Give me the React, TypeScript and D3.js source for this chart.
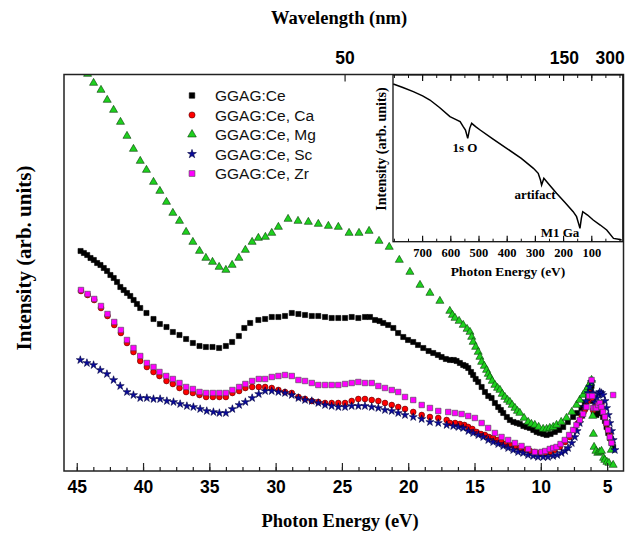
import React from 'react';
import * as d3 from 'd3';

// tick values
const energyTicks = [45, 40, 35, 30, 25, 20, 15, 10, 5];
const wavelengthTicks = [50, 75, 100, 125, 150, 175, 200, 225, 250, 275, 300];
const wavelengthLabels = [50, 150, 300];
const insetTicks = [700, 600, 500, 400, 300, 200, 100];

// [photon energy (eV), intensity (arb. units)]
const ceData: [number, number][] = [
  [44.75, 220], [44.5, 218], [44.25, 216], [44.0, 213], [43.75, 211], [43.5, 208], [43.25, 206], [43.0, 203],
  [42.75, 200], [42.5, 196], [42.25, 193], [42.0, 189], [41.75, 184], [41.5, 181], [41.25, 178], [41.0, 175],
  [40.75, 171], [40.5, 167], [40.25, 163], [39.78, 158], [39.25, 152], [38.77, 147], [38.27, 144], [37.79, 139],
  [37.29, 136], [36.79, 132], [36.28, 128], [35.78, 125], [35.3, 124], [34.8, 124], [34.3, 123], [33.79, 125],
  [33.32, 129], [32.81, 135], [32.4, 143], [31.96, 148], [31.34, 151], [30.83, 152], [30.33, 154], [29.83, 154],
  [29.33, 155], [28.82, 158], [28.32, 157], [27.82, 156], [27.31, 155], [26.82, 155], [26.31, 154], [25.81, 153],
  [25.31, 153], [24.8, 153], [24.3, 154], [23.8, 153], [23.3, 154], [22.92, 154], [22.54, 151], [22.2, 150],
  [21.92, 148], [21.55, 146], [21.16, 143], [20.8, 138], [20.41, 134], [20.05, 131], [19.66, 129], [19.3, 126],
  [18.9, 123], [18.5, 120], [18.15, 118], [17.8, 116], [17.52, 114], [17.2, 112], [16.89, 111], [16.6, 111],
  [16.39, 110], [16.14, 108], [15.89, 106], [15.7, 105], [15.51, 103], [15.3, 99], [15.14, 96], [14.95, 92],
  [14.76, 89], [14.5, 84], [14.25, 79], [14.0, 75], [13.75, 73], [13.5, 68], [13.25, 64], [13.05, 61],
  [12.87, 58], [12.6, 54], [12.37, 51], [12.1, 49], [11.85, 48], [11.62, 47], [11.35, 45], [11.1, 44],
  [10.86, 43], [10.6, 41], [10.35, 39], [10.11, 38], [9.85, 37], [9.6, 36], [9.3, 37], [8.98, 39],
  [8.65, 41], [8.35, 44], [8.0, 49], [7.6, 54], [7.3, 58], [6.97, 63], [6.72, 68], [6.47, 74],
  [6.3, 80], [6.21, 85], [6.12, 70], [6.05, 59], [5.84, 56], [5.7, 58], [5.59, 61], [5.45, 58],
  [5.34, 54], [5.2, 50], [5.08, 44], [4.95, 38], [4.83, 33], [4.7, 28], [4.58, 24],
];

const caData: [number, number][] = [
  [44.72, 180], [44.22, 176], [43.72, 171], [43.21, 163], [42.72, 155], [42.21, 146], [41.71, 138], [41.25, 128],
  [40.76, 119], [40.25, 110], [39.75, 104], [39.25, 99], [38.8, 95], [38.27, 90], [37.79, 87], [37.29, 83],
  [36.79, 79], [36.28, 78], [35.78, 76], [35.28, 74], [34.77, 74], [34.28, 74], [33.79, 74], [33.3, 78],
  [32.79, 80], [32.32, 83], [31.81, 84], [31.31, 84], [30.83, 84], [30.33, 83], [29.83, 81], [29.33, 79],
  [28.82, 78], [28.32, 74], [27.82, 72], [27.31, 70], [26.82, 69], [26.31, 68], [25.81, 68], [25.31, 68],
  [24.8, 68], [24.3, 70], [23.8, 72], [23.3, 72], [22.79, 71], [22.29, 70], [21.79, 68], [21.28, 66],
  [20.79, 64], [20.28, 62], [19.66, 59], [19.02, 56], [18.4, 54], [17.77, 53], [17.14, 51], [16.89, 48],
  [16.5, 48], [16.14, 47], [15.8, 46], [15.51, 44], [15.2, 42], [14.88, 39], [14.55, 37], [14.25, 36],
  [13.95, 34], [13.63, 33], [13.3, 31], [13.0, 29], [12.7, 27], [12.37, 26], [12.0, 24], [11.62, 23],
  [11.25, 21], [10.86, 20], [10.5, 19], [10.11, 18], [9.75, 18], [9.36, 19], [9.0, 21], [8.6, 24],
  [8.2, 29], [7.85, 34], [7.5, 41], [7.22, 48], [6.95, 55], [6.72, 61], [6.5, 70], [6.34, 78],
  [6.2, 72], [6.09, 61], [5.9, 64], [5.72, 66], [5.6, 68], [5.46, 68], [5.33, 62], [5.21, 54],
  [5.08, 47], [4.96, 41], [4.83, 36], [4.7, 31],
];

const mgData: [number, number][] = [
  [44.72, 410], [44.22, 397], [43.77, 388], [43.21, 381], [42.74, 371], [42.26, 361], [41.74, 349], [41.25, 335],
  [40.76, 322], [40.25, 310], [39.78, 301], [39.25, 289], [38.77, 280], [38.27, 269], [37.79, 258], [37.29, 250],
  [36.79, 239], [36.28, 229], [35.78, 220], [35.3, 213], [34.8, 209], [34.3, 204], [33.79, 201], [33.32, 206],
  [32.81, 213], [32.32, 221], [31.81, 229], [31.34, 233], [30.81, 234], [30.33, 238], [29.83, 244], [29.1, 252],
  [28.35, 250], [27.57, 249], [26.82, 247], [26.06, 245], [25.31, 244], [24.5, 238], [23.75, 238], [22.99, 240],
  [22.24, 230], [21.47, 224], [20.71, 211], [19.91, 199], [19.15, 186], [18.4, 178], [17.65, 170], [16.9, 160],
  [16.7, 156], [16.51, 153], [16.2, 150], [15.89, 146], [15.6, 142], [15.38, 139], [15.25, 134], [15.14, 129],
  [14.95, 124], [14.76, 119], [14.63, 114], [14.5, 109], [14.3, 105], [14.13, 101], [14.0, 97], [13.88, 94],
  [13.7, 90], [13.5, 86], [13.3, 83], [13.12, 81], [12.95, 77], [12.75, 74], [12.55, 71], [12.37, 69],
  [12.2, 66], [11.99, 63], [11.8, 60], [11.62, 58], [11.3, 53], [10.99, 49], [10.75, 47], [10.49, 46],
  [10.2, 44], [9.86, 42], [9.6, 42], [9.36, 43], [9.1, 44], [8.85, 46], [8.5, 49], [8.1, 53],
  [7.7, 59], [7.34, 66], [7.1, 71], [6.84, 76], [6.65, 80], [6.47, 84], [6.3, 88], [6.21, 91],
  [6.12, 55], [6.07, 37], [6.02, 24], [5.88, 20], [5.74, 18], [5.6, 19], [5.46, 20], [5.3, 13],
  [5.21, 11], [5.05, 9], [4.9, 8], [4.72, 21], [4.58, 6],
];

const scData: [number, number][] = [
  [44.77, 111], [44.27, 108], [43.77, 106], [43.27, 101], [42.76, 97], [42.26, 91], [41.76, 85], [41.25, 79],
  [40.76, 76], [40.25, 73], [39.75, 73], [39.25, 72], [38.75, 72], [38.24, 70], [37.74, 69], [37.24, 67],
  [36.73, 65], [36.24, 64], [35.73, 62], [35.23, 60], [34.73, 59], [34.28, 58], [33.79, 58], [33.3, 62],
  [32.79, 66], [32.32, 69], [31.81, 73], [31.31, 77], [30.83, 80], [30.33, 80], [29.83, 79], [29.33, 78],
  [28.82, 76], [28.32, 73], [27.82, 71], [27.31, 70], [26.82, 68], [26.31, 66], [25.81, 65], [25.31, 64],
  [24.8, 64], [24.3, 65], [23.8, 65], [23.3, 65], [22.79, 64], [22.29, 63], [21.79, 61], [21.28, 60],
  [20.79, 58], [20.28, 56], [19.66, 54], [19.02, 52], [18.4, 49], [17.77, 48], [17.14, 46], [16.64, 45],
  [16.25, 44], [15.89, 43], [15.5, 40], [15.14, 38], [14.75, 36], [14.38, 34], [14.0, 31], [13.63, 29],
  [13.25, 27], [12.87, 25], [12.5, 23], [12.12, 21], [11.75, 19], [11.37, 18], [11.0, 16], [10.61, 15],
  [10.25, 14], [9.86, 14], [9.5, 14], [9.11, 15], [8.8, 16], [8.47, 18], [8.2, 20], [7.98, 23],
  [7.7, 28], [7.47, 34], [7.3, 40], [7.1, 48], [6.9, 56], [6.72, 64], [6.6, 70], [6.47, 78],
  [6.35, 84], [6.21, 89], [6.08, 78], [5.96, 69], [5.8, 73], [5.68, 77], [5.59, 79], [5.46, 78],
  [5.34, 76], [5.2, 70], [5.08, 63], [4.95, 56], [4.83, 48], [4.7, 40], [4.58, 31], [4.45, 21],
];

const zrData: [number, number][] = [
  [44.72, 181], [44.22, 177], [43.72, 172], [43.21, 165], [42.72, 157], [42.21, 149], [41.71, 141], [41.25, 131],
  [40.76, 123], [40.25, 115], [39.75, 108], [39.25, 104], [38.8, 99], [38.29, 95], [37.79, 92], [37.29, 88],
  [36.79, 84], [36.28, 82], [35.78, 79], [35.28, 78], [34.77, 78], [34.28, 78], [33.79, 78], [33.3, 81],
  [32.79, 84], [32.32, 87], [31.81, 90], [31.31, 92], [30.83, 92], [30.33, 94], [29.83, 95], [29.33, 96],
  [28.82, 95], [28.32, 91], [27.82, 90], [27.31, 88], [26.82, 86], [26.31, 86], [25.81, 86], [25.31, 86],
  [24.8, 87], [24.3, 88], [23.8, 89], [23.3, 88], [22.79, 88], [22.29, 85], [21.79, 83], [21.28, 81],
  [20.79, 79], [20.28, 74], [19.66, 71], [19.02, 66], [18.4, 63], [17.77, 60], [17.02, 59], [16.51, 58],
  [16.01, 57], [15.51, 55], [15.01, 53], [14.5, 48], [14.01, 43], [13.5, 38], [13.0, 34], [12.5, 31],
  [11.99, 28], [11.49, 25], [10.99, 22], [10.49, 19], [9.98, 19], [9.7, 20], [9.36, 22], [9.1, 23],
  [8.85, 24], [8.55, 27], [8.23, 31], [7.9, 36], [7.6, 41], [7.35, 46], [7.1, 51], [6.85, 57],
  [6.59, 64], [6.4, 75], [6.21, 91], [6.15, 75], [6.09, 63], [5.96, 63], [5.84, 63], [5.7, 66],
  [5.59, 68], [5.46, 64], [5.34, 59], [5.2, 54], [5.08, 48], [4.96, 41], [4.83, 34], [4.7, 28],
  [4.58, 76],
];

// inset: [photon energy (eV), intensity]
const insetData: [number, number][] = [
  [804, 94.6], [770, 92.5], [733, 90], [700, 87.5], [674, 85], [640, 80.5], [603, 75], [585, 73.5],
  [567, 72], [556, 69], [548, 67], [540, 62], [533, 68], [526, 71], [512, 69], [496, 67],
  [450, 61.5], [402, 56], [350, 50], [307, 44], [290, 41], [282, 37], [278, 34], [274, 36],
  [270, 38], [250, 34], [225, 29], [195, 23.5], [166, 18], [154, 15], [147, 11], [142, 8],
  [137, 14], [132, 18], [115, 16], [95, 13], [70, 10], [47, 7], [23, 2], [5, 1.5], [-6, 1],
];

const series = [
  { name: 'GGAG:Ce', data: ceData, type: d3.symbolSquare, size: 26, fill: '#000', stroke: '#000' },
  { name: 'GGAG:Ce, Ca', data: caData, type: d3.symbolCircle, size: 26, fill: '#ff0000', stroke: '#500' },
  { name: 'GGAG:Ce, Mg', data: mgData, type: d3.symbolTriangle, size: 28, fill: '#1ed01e', stroke: '#0a3a0a' },
  { name: 'GGAG:Ce, Sc', data: scData, type: d3.symbolStar, size: 20, fill: '#0a0a9a', stroke: '#000040' },
  { name: 'GGAG:Ce, Zr', data: zrData, type: d3.symbolSquare, size: 30, fill: '#ff00ff', stroke: '#444' },
];

const W = 637;
const H = 533;
const sans = '"Liberation Sans", Arial, sans-serif';
const serif = '"Liberation Serif", "Times New Roman", serif';

export default function App() {
  const left = 64, right = 623.5, top = 74.5, bottom = 471;
  const x = d3.scaleLinear().domain([46, 3.8]).range([left, right]);
  const y = d3.scaleLinear().domain([0, 396.5]).range([bottom, top]);
  const minor = d3.range(5, 45.01, 1.25);

  // inset
  const il = 393, ir = 622.8, it = 75, ib = 241.7;
  const ix = d3.scaleLinear().domain([805, -10]).range([il, ir]);
  const iy = d3.scaleLinear().domain([0, 100]).range([ib, it]);
  const insetLine = d3.line<[number, number]>().x((d) => ix(d[0])).y((d) => iy(d[1]));
  const insetMinor = d3.range(0, 801, 50);

  return (
    <svg width={W} height={H} style={{ position: 'absolute', left: 0, top: 0, background: '#fff' }}>
      <defs>
        <clipPath id="plot">
          <rect x={left} y={top} width={right - left} height={bottom - top} />
        </clipPath>
      </defs>
      <rect width={W} height={H} fill="#fff" />

      {/* markers */}
      <g clipPath="url(#plot)">
        {series.map((s) => {
          const p = d3.symbol().type(s.type).size(s.size)() as string;
          return (
            <g key={s.name}>
              {s.data.map((d, i) => (
                <path key={i} d={p} transform={`translate(${x(d[0])},${y(d[1])})`}
                  fill={s.fill} stroke={s.stroke} strokeWidth={0.6} />
              ))}
            </g>
          );
        })}
      </g>

      {/* frame */}
      <rect x={left} y={top} width={right - left} height={bottom - top} fill="none" stroke="#222" strokeWidth={1.5} />

      {/* bottom axis */}
      {minor.map((t) => (
        <line key={'m' + t} x1={x(t)} x2={x(t)} y1={bottom} y2={bottom - 4} stroke="#222" strokeWidth={1.2} />
      ))}
      {energyTicks.map((t) => (
        <g key={t}>
          <line x1={x(t)} x2={x(t)} y1={bottom} y2={bottom - 8} stroke="#222" strokeWidth={1.2} />
          <text x={x(t)} y={493} textAnchor="middle" fontFamily={sans} fontWeight="bold" fontSize={17.5}>{t}</text>
        </g>
      ))}
      <text x={340} y={527} textAnchor="middle" fontFamily={serif} fontWeight="bold" fontSize={18.5}>Photon Energy (eV)</text>

      {/* top axis (wavelength) */}
      {wavelengthTicks.map((w) => (
        <line key={w} x1={x(1240 / w)} x2={x(1240 / w)} y1={top} y2={top + 7} stroke="#222" strokeWidth={1.2} />
      ))}
      {wavelengthLabels.map((w) => (
        <text key={w} x={x(1240 / w) + (w === 300 ? -9 : 0)} y={64} textAnchor="middle" fontFamily={sans}
          fontWeight="bold" fontSize={17.5}>{w}</text>
      ))}
      <text x={339} y={24} textAnchor="middle" fontFamily={serif} fontWeight="bold" fontSize={18.5}>Wavelength (nm)</text>

      {/* y title */}
      <text transform={`translate(31,258) rotate(-90)`} textAnchor="middle" fontFamily={serif} fontWeight="bold"
        fontSize={21}>Intensity (arb. units)</text>

      {/* legend */}
      {series.map((s, i) => {
        const p = d3.symbol().type(s.type).size(s.size + 4)() as string;
        const ly = 95.5 + i * 19.5;
        return (
          <g key={s.name}>
            <path d={p} transform={`translate(192,${ly})`} fill={s.fill} stroke={s.stroke} strokeWidth={0.6} />
            <text x={215} y={ly + 5.5} fontFamily={sans} fontSize={15.5} fill="#111">{s.name}</text>
          </g>
        );
      })}

      {/* inset */}
      <rect x={il} y={it} width={ir - il} height={ib - it} fill="#fff" stroke="#111" strokeWidth={1.3} />
      {insetMinor.map((t) => (
        <g key={'im' + t}>
          <line x1={ix(t)} x2={ix(t)} y1={ib} y2={ib - 3} stroke="#111" />
          <line x1={ix(t)} x2={ix(t)} y1={it} y2={it + 3} stroke="#111" />
        </g>
      ))}
      {insetTicks.map((t) => (
        <g key={'it' + t}>
          <line x1={ix(t)} x2={ix(t)} y1={ib} y2={ib - 6} stroke="#111" strokeWidth={1.2} />
          <line x1={ix(t)} x2={ix(t)} y1={it} y2={it + 6} stroke="#111" strokeWidth={1.2} />
          <text x={ix(t)} y={257} textAnchor="middle" fontFamily={serif} fontWeight="bold" fontSize={12.5}>{t}</text>
        </g>
      ))}
      <path d={insetLine(insetData) as string} fill="none" stroke="#000" strokeWidth={1.5} />
      <text x={465} y={152} textAnchor="middle" fontFamily={serif} fontWeight="bold" fontSize={13}>1s O</text>
      <text x={535} y={199} textAnchor="middle" fontFamily={serif} fontWeight="bold" fontSize={13}>artifact</text>
      <text x={560} y={237} textAnchor="middle" fontFamily={serif} fontWeight="bold" fontSize={13}>M1 Ga</text>
      <text x={508} y={276} textAnchor="middle" fontFamily={serif} fontWeight="bold" fontSize={13.5}>Photon Energy (eV)</text>
      <text transform={`translate(386,149) rotate(-90)`} textAnchor="middle" fontFamily={serif} fontWeight="bold"
        fontSize={14}>Intensity (arb. units)</text>
    </svg>
  );
}
